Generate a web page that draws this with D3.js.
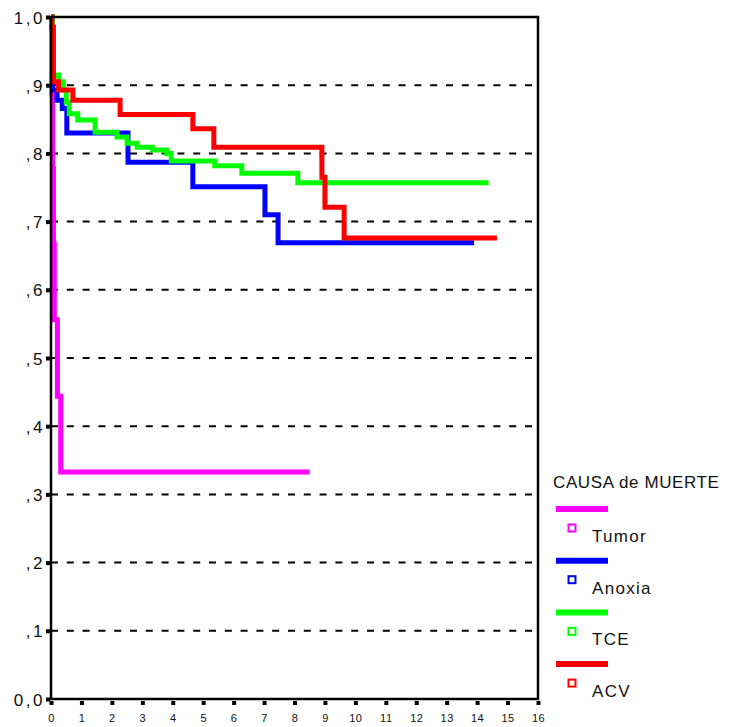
<!DOCTYPE html>
<html><head><meta charset="utf-8">
<script src="https://cdn.jsdelivr.net/npm/d3@7"></script>
<style>
body{margin:0;background:#fff;}
svg{display:block;}
text{font-family:"Liberation Sans",Arial,sans-serif;fill:#111;}
</style></head>
<body>
<svg id="c" width="734" height="727"></svg>
<script>
// ---- data ----
const xTicks = d3.range(0, 17);
const yTicks = [0, 0.1, 0.2, 0.3, 0.4, 0.5, 0.6, 0.7, 0.8, 0.9, 1.0];
const yTickLabels = ["0,0", ",1", ",2", ",3", ",4", ",5", ",6", ",7", ",8", ",9", "1,0"];
const seriesNames = ["Tumor", "Anoxia", "TCE", "ACV"];
const seriesColors = ["#ff00ff", "#0000ff", "#00ff00", "#ff0000"];
const legendTitle = "CAUSA de MUERTE";

const tumorTimes = [0, 0.03, 0.05, 0.08, 0.11, 0.21, 0.32, 8.5];
const tumorSurv  = [1, 0.889, 0.778, 0.667, 0.556, 0.444, 0.333, 0.333];

const anoxiaTimes = [0, 0.05, 0.2, 0.37, 0.52, 2.53, 4.66, 7.03, 7.46, 13.9];
const anoxiaSurv  = [1, 0.893, 0.878, 0.866, 0.830, 0.787, 0.751, 0.710, 0.669, 0.669];

const tceTimes = [0, 0.05, 0.25, 0.4, 0.5, 0.6, 0.88, 1.45, 2.17, 2.5, 2.83, 3.34, 3.8, 3.95, 5.38, 6.27, 8.11, 14.38];
const tceSurv  = [1, 0.915, 0.905, 0.893, 0.875, 0.858, 0.849, 0.831, 0.824, 0.815, 0.809, 0.805, 0.800, 0.789, 0.782, 0.771, 0.757, 0.757];

const acvTimes = [0, 0.03, 0.08, 0.25, 0.72, 2.27, 4.66, 5.35, 8.9, 9.0, 9.63, 14.65];
const acvSurv  = [1, 0.985, 0.905, 0.893, 0.878, 0.857, 0.836, 0.809, 0.765, 0.721, 0.676, 0.676];

const seriesTimes = [tumorTimes, anoxiaTimes, tceTimes, acvTimes];
const seriesSurv = [tumorSurv, anoxiaSurv, tceSurv, acvSurv];

// ---- layout ----
const L = 51, R = 538, T = 17, B = 699;
const svg = d3.select("#c");
const x = d3.scaleLinear().domain([0, 16]).range([L, R]);
const y = d3.scaleLinear().domain([0, 1]).range([B, T]);

// gridlines
svg.append("g").selectAll("line").data(yTicks.filter(d => d > 0 && d < 1)).join("line")
  .attr("x1", L).attr("x2", R).attr("y1", d => y(d)).attr("y2", d => y(d))
  .attr("stroke", "#000").attr("stroke-width", 2).attr("stroke-dasharray", "7,8.8");

// curves
const line = d3.line().x(d => x(d[0])).y(d => y(d[1])).curve(d3.curveStepAfter);
seriesNames.forEach((n, i) => {
  const pts = seriesTimes[i].map((t, j) => [t, seriesSurv[i][j]]);
  svg.append("path").datum(pts).attr("d", line)
    .attr("fill", "none").attr("stroke", seriesColors[i]).attr("stroke-width", 5)
    .attr("stroke-linejoin", "miter").attr("stroke-linecap", "butt");
});

// frame
svg.append("rect").attr("x", L).attr("y", T).attr("width", R - L).attr("height", B - T)
  .attr("fill", "none").attr("stroke", "#000").attr("stroke-width", 2.5);

// x axis
const xAxis = svg.append("g").attr("transform", `translate(0,${B})`)
  .call(d3.axisBottom(x).tickValues(xTicks).tickSize(6).tickPadding(12).tickFormat(d3.format("d")));
xAxis.select(".domain").remove();
xAxis.selectAll(".tick line").attr("y1", 2).attr("y2", 6).attr("stroke-width", 4).attr("stroke", "#000");
xAxis.selectAll(".tick text").attr("font-size", 11).attr("font-family", "Liberation Sans, Arial, sans-serif")
  .attr("fill", "#111").attr("y", 23).attr("dy", 0).style("letter-spacing", "0.5px");

// y axis
const yAxis = svg.append("g").attr("transform", `translate(${L},0)`)
  .call(d3.axisLeft(y).tickValues(yTicks).tickSize(5).tickPadding(8).tickFormat((d, i) => yTickLabels[i]));
yAxis.select(".domain").remove();
yAxis.selectAll(".tick line").attr("x1", -1).attr("x2", -5).attr("stroke-width", 4).attr("stroke", "#000");
yAxis.selectAll(".tick text").attr("font-size", 17).attr("font-family", "Liberation Sans, Arial, sans-serif")
  .attr("fill", "#111").attr("x", -6).attr("dy", "0.36em").style("letter-spacing", "2.5px");

// legend
const lg = svg.append("g");
lg.append("text").attr("x", 553).attr("y", 488).attr("font-size", 17)
  .style("letter-spacing", "0.6px").text(legendTitle);
seriesNames.forEach((n, i) => {
  const yy = 509 + i * 51.7;
  lg.append("line").attr("x1", 556).attr("x2", 608).attr("y1", yy).attr("y2", yy)
    .attr("stroke", seriesColors[i]).attr("stroke-width", 6);
  lg.append("rect").attr("x", 568.5).attr("y", yy + 15.5).attr("width", 7).attr("height", 7)
    .attr("fill", "#fff").attr("stroke", seriesColors[i]).attr("stroke-width", 2);
  lg.append("text").attr("x", 592).attr("y", yy + 33).attr("font-size", 17)
    .style("letter-spacing", "1.3px").text(n);
});
</script>
</body></html>
